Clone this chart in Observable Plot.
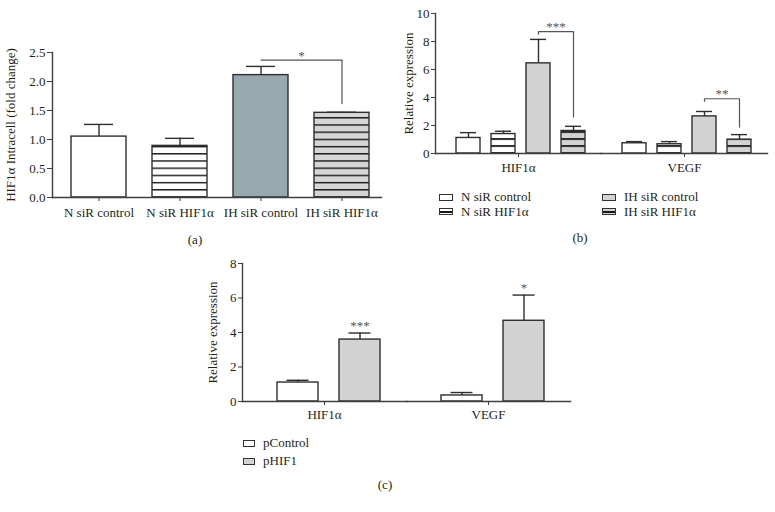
<!DOCTYPE html>
<html>
<head>
<meta charset="utf-8">
<script src="https://cdn.jsdelivr.net/npm/d3@7"></script>
<script src="https://cdn.jsdelivr.net/npm/@observablehq/plot@0.6"></script>
<style>
  body { margin: 0; background: #fff; }
  #fig { position: relative; width: 775px; height: 512px; font-family: "Liberation Serif", "Times New Roman", serif; color: #231f20; overflow: hidden; }
  .panel { position: absolute; }
  .cap { position: absolute; font-size: 13px; transform: translate(-50%, -50%); }
  .leg { position: absolute; font-size: 13px; display: flex; align-items: center; white-space: nowrap; transform: translateY(-50%); }
  .sw { box-sizing: border-box; border: 1.3px solid #333; margin-right: 8px; }
</style>
</head>
<body>
<div id="fig"></div>
<script>
// ---------------- DATA ----------------
// Panel (a)
const catsA   = ["N siR control", "N siR HIF1α", "IH siR control", "IH siR HIF1α"];
const valuesA = [1.05, 0.89, 2.11, 1.46];
const upperA  = [1.26, 1.02, 2.26, 1.47];
const ticksA  = [0, 0.5, 1.0, 1.5, 2.0, 2.5];
const sigA = [{from: "IH siR control", to: "IH siR HIF1α", top: 2.37, leftEnd: 2.37, rightEnd: 1.62, label: "*"}];

// Panel (b)
const genesB       = ["HIF1α", "VEGF"];
const seriesB      = ["N siR control", "N siR HIF1α", "IH siR control", "IH siR HIF1α"];
const valuesB_HIF1 = [1.11, 1.39, 6.44, 1.61];
const upperB_HIF1  = [1.49, 1.59, 8.15, 1.94];
const valuesB_VEGF = [0.73, 0.66, 2.65, 0.99];
const upperB_VEGF  = [0.85, 0.85, 3.00, 1.35];
const ticksB       = [0, 2, 4, 6, 8, 10];
const sigB = [
  {gene: "HIF1α", from: "IH siR control", to: "IH siR HIF1α", top: 8.70, leftEnd: 8.52, rightEnd: 2.60, label: "***"},
  {gene: "VEGF",  from: "IH siR control", to: "IH siR HIF1α", top: 3.91, leftEnd: 3.74, rightEnd: 1.89, label: "**"}
];

// Panel (c)
const genesC          = ["HIF1α", "VEGF"];
const seriesC         = ["pControl", "pHIF1"];
const valuesC_pControl = [1.10, 0.35];
const upperC_pControl  = [1.23, 0.52];
const valuesC_pHIF1    = [3.59, 4.68];
const upperC_pHIF1     = [3.97, 6.17];
const starsC_pHIF1     = ["***", "*"];
const ticksC           = [0, 2, 4, 6, 8];

// ---------------- STYLE ----------------
const FONT = '"Liberation Serif", "Times New Roman", serif';
const INK = "#231f20";
const AX = "#3f3f3f";
const BAR = "#2e2e2e";
const STAR = "#555555";
const baseStyle = {fontFamily: FONT, fontSize: "13px", color: INK, background: "transparent", overflow: "visible"};

const fig = document.getElementById("fig");

function place(el, left, top) {
  const wrap = document.createElement("div");
  wrap.className = "panel";
  wrap.style.left = left + "px";
  wrap.style.top = top + "px";
  wrap.appendChild(el);
  fig.appendChild(wrap);
}
function addStripes(svg, id, bg, period, thick, baseline) {
  let defs = d3.select(svg).select("defs");
  if (defs.empty()) defs = d3.select(svg).insert("defs", ":first-child");
  const p = defs.append("pattern").attr("id", id)
    .attr("patternUnits", "userSpaceOnUse")
    .attr("width", 10).attr("height", period)
    .attr("x", 0).attr("y", baseline - thick / 2);
  p.append("rect").attr("width", 10).attr("height", period).attr("fill", bg);
  p.append("rect").attr("width", 10).attr("height", thick).attr("fill", "#161616");
}
function bracketPoints(sigs) {
  return sigs.flatMap((s, i) => [
    {id: i, gene: s.gene, x: s.from, y: s.leftEnd},
    {id: i, gene: s.gene, x: s.from, y: s.top},
    {id: i, gene: s.gene, x: s.to, y: s.top},
    {id: i, gene: s.gene, x: s.to, y: s.rightEnd}
  ]);
}
function bandStep(width, n, pi, po) { return width / (n - pi + 2 * po); }

// ---------------- PANEL (a) ----------------
{
  const W = 390, H = 200, mL = 52, mR = 9, mT = 12, mB = 43;
  const xRange = [58, 382], pi = 0.32, po = 0.16;
  const step = bandStep(xRange[1] - xRange[0], catsA.length, pi, po);
  const dataA = catsA.map((c, i) => ({cat: c, value: valuesA[i], upper: upperA[i]}));
  const plot = Plot.plot({
    width: W, height: H, marginLeft: mL, marginRight: mR, marginTop: mT, marginBottom: mB,
    style: baseStyle,
    x: {domain: catsA, range: xRange, paddingInner: pi, paddingOuter: po},
    y: {domain: [0, 2.5]},
    color: {domain: catsA, range: ["white", "url(#stripeAw)", "#98a8af", "url(#stripeAg)"]},
    marks: [
      Plot.barY(dataA, {x: "cat", y: "value", fill: "cat", stroke: BAR, strokeWidth: 1.4}),
      Plot.ruleX(dataA, {x: "cat", y1: "value", y2: "upper", stroke: BAR, strokeWidth: 1.4}),
      Plot.tickY(dataA, {x: "cat", y: "upper", inset: 13, stroke: BAR, strokeWidth: 1.4}),
      Plot.line(bracketPoints(sigA), {x: "x", y: "y", z: "id", stroke: "#555", strokeWidth: 1.2}),
      Plot.text(sigA, {x: "from", y: "top", text: "label", dx: step / 2, dy: -4, fill: STAR, fontSize: 13}),
      Plot.frame({anchor: "left", stroke: AX, strokeWidth: 1.4}),
      Plot.frame({anchor: "bottom", stroke: AX, strokeWidth: 1.4}),
      Plot.axisY({ticks: ticksA, tickFormat: d3.format(".1f"), tickSize: 5, tickPadding: 2, stroke: AX, fill: INK,
                  label: "HIF1α Intracell (fold change)", labelAnchor: "center", labelOffset: 47, labelArrow: "none"}),
      Plot.axisX({tickSize: 4, tickPadding: 6, stroke: AX, fill: INK, label: null})
    ]
  });
  const base = plot.scale("y").apply(0);
  addStripes(plot, "stripeAw", "white", 7.2, 1.4, base);
  addStripes(plot, "stripeAg", "#d6d6d6", 7.2, 1.4, base);
  place(plot, 0, 40);
}

// ---------------- PANEL (b) ----------------
{
  const W = 385, H = 178, mL = 45, mR = 8, mT = 13, mB = 25;
  const pi = 0.327, po = 0.52;
  const facetW = (W - mL - mR) / genesB.length;
  const step = bandStep(facetW, seriesB.length, pi, po);
  const dataB = genesB.flatMap((g, gi) => seriesB.map((s, si) => ({
    gene: g, series: s,
    value: (gi === 0 ? valuesB_HIF1 : valuesB_VEGF)[si],
    upper: (gi === 0 ? upperB_HIF1 : upperB_VEGF)[si]
  })));
  const plot = Plot.plot({
    width: W, height: H, marginLeft: mL, marginRight: mR, marginTop: mT, marginBottom: mB,
    style: baseStyle,
    fx: {domain: genesB, padding: 0, label: null},
    x: {domain: seriesB, paddingInner: pi, paddingOuter: po, align: 0.55, axis: null},
    y: {domain: [0, 10]},
    color: {domain: seriesB, range: ["white", "url(#stripeBw)", "#d3d3d3", "url(#stripeBg)"]},
    marks: [
      Plot.barY(dataB, {fx: "gene", x: "series", y: "value", fill: "series", stroke: BAR, strokeWidth: 1.4}),
      Plot.ruleX(dataB, {fx: "gene", x: "series", y1: "value", y2: "upper", stroke: BAR, strokeWidth: 1.4}),
      Plot.tickY(dataB, {fx: "gene", x: "series", y: "upper", inset: 4, stroke: BAR, strokeWidth: 1.4}),
      Plot.line(bracketPoints(sigB), {fx: "gene", x: "x", y: "y", z: "id", stroke: "#555", strokeWidth: 1.2}),
      Plot.text(sigB, {fx: "gene", x: "from", y: "top", text: "label", dx: step / 2, dy: -5, fill: STAR, stroke: "none", fontSize: 13}),
      Plot.frame({anchor: "bottom", stroke: AX, strokeWidth: 1.4}),
      Plot.frame({anchor: "left", facetAnchor: "left", stroke: AX, strokeWidth: 1.4}),
      Plot.axisY({ticks: ticksB, tickSize: 4, tickPadding: 2, stroke: AX, fill: INK,
                  label: "Relative expression", labelAnchor: "center", labelOffset: 32, labelArrow: "none"}),
      Plot.axisFx({anchor: "bottom", tickSize: 4, tickPadding: 5, stroke: AX, fill: INK, label: null})
    ]
  });
  const base = plot.scale("y").apply(0);
  addStripes(plot, "stripeBw", "white", 7, 1.8, base);
  addStripes(plot, "stripeBg", "#d3d3d3", 7, 1.8, base);
  place(plot, 390, 0);
}

// ---------------- PANEL (c) ----------------
{
  const W = 400, H = 178, mL = 61, mR = 10, mT = 13, mB = 27;
  const pi = 0.334, po = 0.48;
  const dataC = genesC.flatMap((g, gi) => [
    {gene: g, series: seriesC[0], value: valuesC_pControl[gi], upper: upperC_pControl[gi], star: ""},
    {gene: g, series: seriesC[1], value: valuesC_pHIF1[gi], upper: upperC_pHIF1[gi], star: starsC_pHIF1[gi]}
  ]);
  const plot = Plot.plot({
    width: W, height: H, marginLeft: mL, marginRight: mR, marginTop: mT, marginBottom: mB,
    style: baseStyle,
    fx: {domain: genesC, padding: 0, label: null},
    x: {domain: seriesC, paddingInner: pi, paddingOuter: po, align: 0.575, axis: null},
    y: {domain: [0, 8]},
    color: {domain: seriesC, range: ["white", "#d3d3d3"]},
    marks: [
      Plot.barY(dataC, {fx: "gene", x: "series", y: "value", fill: "series", stroke: BAR, strokeWidth: 1.4}),
      Plot.ruleX(dataC, {fx: "gene", x: "series", y1: "value", y2: "upper", stroke: BAR, strokeWidth: 1.4}),
      Plot.tickY(dataC, {fx: "gene", x: "series", y: "upper", inset: 9.5, stroke: BAR, strokeWidth: 1.4}),
      Plot.text(dataC, {fx: "gene", x: "series", y: "upper", text: "star", dy: -7, fill: STAR, fontSize: 13}),
      Plot.frame({anchor: "bottom", stroke: AX, strokeWidth: 1.4}),
      Plot.frame({anchor: "left", facetAnchor: "left", stroke: AX, strokeWidth: 1.4}),
      Plot.axisY({ticks: ticksC, tickSize: 4, tickPadding: 2, stroke: AX, fill: INK,
                  label: "Relative expression", labelAnchor: "center", labelOffset: 35, labelArrow: "none"}),
      Plot.axisFx({anchor: "bottom", tickSize: 4, tickPadding: 4, stroke: AX, fill: INK, label: null})
    ]
  });
  place(plot, 180, 250);
}

// ---------------- LEGENDS & CAPTIONS ----------------
function legendItem(label, x, y, w, h, background) {
  const d = document.createElement("div");
  d.className = "leg";
  d.style.left = x + "px";
  d.style.top = y + "px";
  const sw = document.createElement("span");
  sw.className = "sw";
  sw.style.width = w + "px";
  sw.style.height = h + "px";
  sw.style.background = background;
  d.appendChild(sw);
  d.appendChild(document.createTextNode(label));
  fig.appendChild(d);
}
const stripeW = "linear-gradient(#fff 0 1.9px, #161616 1.9px 3.6px, #fff 3.6px)";
const stripeG = "linear-gradient(#d3d3d3 0 1.9px, #161616 1.9px 3.6px, #d3d3d3 3.6px)";
const legB = [
  {label: seriesB[0], bg: "#fff"},
  {label: seriesB[1], bg: stripeW},
  {label: seriesB[2], bg: "#d3d3d3"},
  {label: seriesB[3], bg: stripeG}
];
legendItem(legB[0].label, 439, 197, 14, 7, legB[0].bg);
legendItem(legB[1].label, 439, 211.5, 14, 7, legB[1].bg);
legendItem(legB[2].label, 602, 197, 14, 7, legB[2].bg);
legendItem(legB[3].label, 602, 211.5, 14, 7, legB[3].bg);
legendItem(seriesC[0], 243, 443, 12, 7, "#fff");
legendItem(seriesC[1], 243, 461, 12, 7, "#d3d3d3");

function caption(t, x, y) {
  const d = document.createElement("div");
  d.className = "cap";
  d.style.left = x + "px";
  d.style.top = y + "px";
  d.textContent = t;
  fig.appendChild(d);
}
caption("(a)", 195, 240);
caption("(b)", 580, 238);
caption("(c)", 385, 485);
</script>
</body>
</html>
